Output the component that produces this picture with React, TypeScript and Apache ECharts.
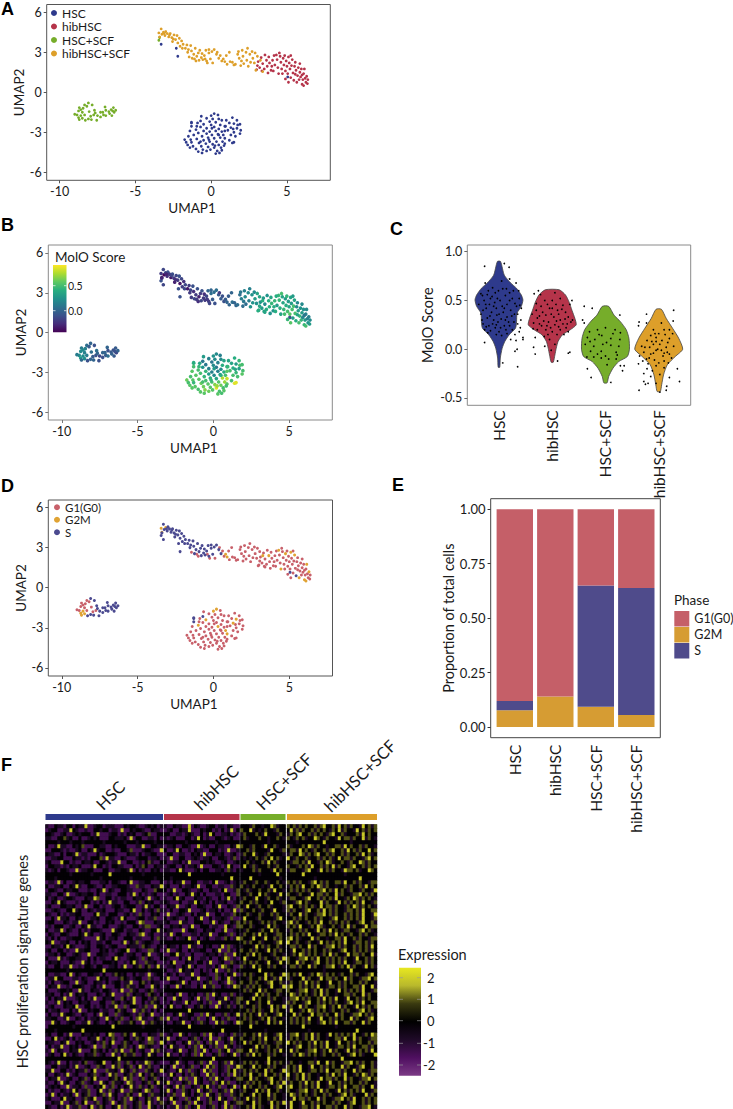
import React, { useEffect, useRef } from "react";
import * as echarts from "echarts";

const FONT = "Lato, 'Open Sans', sans-serif";
const TEXT = "#1a1a1a";

const groups = ["HSC", "hibHSC", "HSC+SCF", "hibHSC+SCF"];
const groupColors = ["#2e3a8c", "#b5344a", "#76ad2a", "#dd9f2a"];
const phases = ["G1(G0)", "G2M", "S"];
const phaseColors = ["#c8606a", "#e0a334", "#4b4a90"];
const barColors = ["#c55f68", "#d69c33", "#4f4b8b"];

// Cells: [UMAP1, UMAP2, MolO score, phase index]
const hscCells = [
  [0.2,-1.6,0.2,1],[0.45,-1.7,0.15,0],[0.0,-1.75,0.25,1],[-0.65,-1.8,0.3,0],[-0.3,-1.95,0.15,0],[0.1,-2.0,0.2,0],[0.5,-2.0,0.2,0],[-0.7,-2.15,0.1,2],[-0.1,-2.2,0.1,0],[0.3,-2.25,0.15,0],
  [0.7,-2.1,0.35,0],[-0.5,-2.4,0.1,1],[-0.9,-2.3,0.35,0],[0.0,-2.45,0.2,0],[0.6,-2.45,0.4,0],[-1.3,-2.3,0.45,2],[-1.3,-2.55,0.5,2],[-0.7,-2.6,0.25,0],[-0.3,-2.7,0.15,0],[0.2,-2.6,0.1,0],
  [0.5,-2.75,0.2,0],[0.9,-2.55,0.4,0],[-1.0,-2.8,0.5,1],[-0.5,-2.9,0.45,0],[-0.1,-2.95,0.15,0],[0.3,-2.9,0.15,1],[0.7,-2.95,0.4,0],[-1.4,-2.9,0.55,0],[-0.85,-3.05,0.5,0],[-0.3,-3.1,0.3,0],
  [0.05,-3.2,0.2,0],[0.45,-3.15,0.3,0],[0.8,-3.2,0.5,1],[-1.15,-3.2,0.55,0],[-0.6,-3.3,0.45,0],[-0.2,-3.4,0.4,0],[0.2,-3.45,0.35,0],[0.6,-3.4,0.75,0],[0.9,-3.45,0.8,1],[-1.5,-3.3,0.5,0],
  [-1.35,-3.55,0.55,0],[-0.95,-3.5,0.55,0],[-0.5,-3.6,0.5,0],[-0.1,-3.7,0.5,0],[0.35,-3.7,0.55,0],[0.75,-3.7,0.7,0],[-1.75,-3.55,0.6,0],[-1.65,-3.75,0.5,0],[-1.3,-3.75,0.45,0],[-0.8,-3.8,0.6,0],
  [-0.35,-3.85,0.55,0],[0.1,-3.9,0.65,0],[0.5,-3.95,0.6,0],[0.9,-3.85,0.55,0],[-1.2,-4.05,0.55,0],[-0.65,-4.05,0.6,0],[-0.2,-4.1,0.55,0],[0.2,-4.15,0.85,0],[0.65,-4.15,0.5,0],[-1.4,-4.15,0.55,0],
  [-1.0,-4.25,0.5,0],[-0.55,-4.3,0.65,0],[-0.05,-4.3,0.55,0],[0.4,-4.4,0.5,0],[0.7,-4.35,0.55,0],[-0.85,-4.45,0.55,0],[-0.3,-4.4,0.6,0],[0.3,-4.6,0.55,0],[0.55,-4.55,0.5,0],[-0.6,-4.55,0.55,0],
  [1.0,-2.1,0.35,0],[1.4,-1.9,0.4,0],[1.7,-2.1,0.45,0],[1.2,-2.3,0.35,0],[1.5,-2.35,0.3,1],[1.9,-2.4,0.5,0],[0.95,-2.55,0.45,0],[1.3,-2.65,0.4,1],[1.7,-2.7,0.3,0],[1.95,-2.85,0.5,0],
  [1.1,-2.85,0.5,0],[1.5,-3.0,0.45,0],[1.9,-3.1,0.55,0],[1.6,-3.3,0.5,0],[1.3,-3.2,0.5,0],[1.75,-2.45,0.5,0],[1.45,-2.75,0.35,0],[1.2,-3.6,0.5,0],[1.5,-3.75,0.85,0],[1.4,-3.8,0.85,0],
  [0.9,-2.9,0.55,0],[-1.3,-2.25,0.4,2],[-0.15,-3.55,0.45,0],[0.5,-3.2,0.4,0],[-0.95,-2.55,0.45,0],[0.05,-2.7,0.3,0],[-0.7,-3.7,0.5,0],[0.85,-4.0,0.5,0],[-1.55,-3.95,0.55,0],[0.25,-4.0,0.7,0],
  [-3.3,3.6,-0.15,2],[-2.3,3.3,-0.1,2],[-2.2,2.7,-0.1,2],[5.05,1.15,-0.1,2],
];
const hibCells = [
  [3.1,2.3,0.25,0],[3.2,1.85,0.3,0],[3.0,1.7,0.4,0],[3.3,2.6,0.3,0],[3.4,2.15,0.2,0],[3.5,1.75,0.4,0],[3.55,2.8,0.25,0],[3.65,2.4,0.4,1],[3.7,1.95,0.4,0],[3.8,2.65,0.35,0],
  [3.85,2.2,0.45,0],[3.95,1.65,0.25,0],[4.05,2.4,0.45,0],[4.1,1.6,0.4,0],[4.2,2.05,0.3,0],[4.3,2.8,0.45,1],[4.35,2.45,0.45,0],[4.4,1.85,0.4,0],[4.45,1.4,0.35,1],[4.55,2.7,0.35,0],
  [4.6,2.25,0.35,0],[4.65,1.75,0.45,0],[4.7,1.4,0.5,0],[4.75,2.55,0.3,1],[4.8,2.05,0.4,0],[4.85,2.75,0.45,0],[4.9,1.6,0.5,0],[4.95,2.35,0.3,0],[5.0,1.95,0.35,0],[5.05,1.4,0.55,0],
  [5.1,2.65,0.35,1],[5.15,2.2,0.3,0],[5.2,1.75,0.5,0],[5.25,1.1,0.3,0],[5.3,2.0,0.5,0],[5.35,2.45,0.35,1],[5.4,1.45,0.5,0],[5.45,0.9,0.4,2],[5.5,1.95,0.2,0],[5.55,2.25,0.2,0],
  [5.6,1.65,0.3,0],[5.65,0.75,0.5,1],[5.7,1.25,0.45,0],[5.75,1.85,0.25,0],[5.8,0.95,0.45,0],[5.85,1.5,0.3,0],[5.9,1.15,0.2,0],[5.95,1.75,0.25,0],[6.0,0.6,0.45,1],[6.05,0.95,0.3,0],
  [6.1,1.4,0.15,0],[6.1,0.5,0.5,1],[6.15,1.75,0.2,1],[6.2,1.05,0.15,0],[6.25,0.75,0.25,0],[6.3,1.2,0.15,1],[6.35,0.65,0.3,0],[6.38,0.95,0.2,0],[4.5,2.95,0.5,0],[5.25,2.75,0.3,0],
  [3.35,1.6,0.35,0],[4.15,2.75,0.4,0],[3.05,2.0,0.35,0],[5.55,1.35,0.35,0],[4.9,1.0,0.45,0],[4.0,1.95,0.4,0],[5.85,2.15,0.2,0],[3.75,1.45,0.25,0],[5.1,0.75,0.55,0],[6.0,1.3,0.1,0],
];
const scfCells = [
  [-8.1,-0.8,0.0,2],[-8.35,-0.95,0.05,0],[-7.85,-0.95,-0.1,2],[-8.7,-1.15,0.12,0],[-8.45,-1.2,0.15,0],[-8.75,-1.4,0.2,0],[-8.5,-1.5,0.15,0],[-8.85,-1.7,0.22,0],[-8.6,-1.75,0.22,1],[-9.0,-1.65,0.12,0],
  [-8.75,-1.9,0.28,1],[-8.5,-1.95,0.22,1],[-8.7,-2.05,0.02,1],[-8.35,-1.7,0.12,0],[-8.3,-2.1,-0.1,2],[-8.05,-1.45,0.05,0],[-7.95,-1.8,-0.05,0],[-7.9,-2.05,0.0,2],[-7.75,-1.7,-0.1,0],[-7.7,-1.35,0.05,2],
  [-7.55,-2.1,-0.1,2],[-7.5,-1.75,-0.15,2],[-7.3,-1.5,0.0,2],[-7.3,-1.85,-0.1,2],[-7.1,-1.7,-0.05,2],[-7.0,-1.1,0.0,2],[-6.95,-1.35,-0.1,2],[-6.95,-1.75,0.05,2],[-6.7,-1.6,0.0,2],[-6.6,-1.3,-0.1,2],
  [-6.55,-1.75,-0.05,2],[-6.45,-1.15,-0.05,2],[-6.4,-1.5,-0.15,2],[-6.3,-1.35,0.0,2],[-6.5,-1.4,-0.1,2],[-8.2,-1.05,-0.05,0],[-7.15,-1.5,0.0,2],[-7.65,-1.55,0.0,2],[-8.1,-2.0,0.0,2],[-8.6,-1.3,0.2,0],
  [-6.75,-1.45,-0.05,2],[-3.45,3.9,-0.1,2],[-3.4,4.1,-0.2,2],
];
const hibScfCells = [
  [-3.45,4.45,-0.2,1],[-3.4,4.15,-0.3,1],[-3.3,4.75,-0.15,2],[-3.25,4.35,-0.4,2],[-3.15,4.5,-0.15,1],[-3.05,4.25,-0.25,2],[-3.0,4.55,-0.1,2],[-2.9,4.4,-0.2,2],[-2.8,4.15,-0.35,2],[-2.7,4.4,-0.1,2],
  [-2.6,4.1,-0.2,2],[-2.55,3.8,-0.3,2],[-2.45,4.3,-0.15,2],[-2.35,3.95,-0.2,2],[-2.25,4.25,-0.1,2],[-2.2,3.7,-0.35,2],[-2.1,4.05,-0.15,2],[-2.05,3.45,-0.2,2],[-1.95,3.85,-0.25,2],[-1.85,3.6,-0.15,2],
  [-1.7,3.3,-0.35,2],[-1.6,3.55,-0.2,2],[-1.5,3.2,-0.15,2],[-1.45,2.65,-0.2,0],[-1.35,3.5,-0.1,2],[-1.3,3.1,-0.25,2],[-1.25,2.55,-0.15,2],[-1.15,2.85,-0.2,2],[-1.05,3.3,-0.1,2],[-1.0,2.35,-0.25,0],
  [-0.95,2.7,-0.3,2],[-0.85,2.95,-0.2,2],[-0.8,2.4,-0.15,2],[-0.75,3.15,-0.1,2],[-0.65,2.6,-0.2,2],[-0.6,2.9,-0.25,2],[-0.55,2.45,-0.2,2],[-0.45,2.75,-0.15,2],[-0.35,3.15,0.0,2],[-0.3,2.35,-0.2,2],
  [-0.25,2.2,-0.15,0],[-0.15,2.95,0.05,2],[-0.15,3.2,0.0,2],[-0.05,2.5,-0.05,2],[0.05,3.05,0.05,2],[0.1,2.2,-0.1,0],[0.2,3.2,0.05,2],[0.35,2.85,-0.05,2],[0.4,3.0,-0.2,0],[0.5,2.55,-0.05,2],
  [0.6,2.75,-0.1,0],[0.7,2.35,-0.1,0],[0.9,2.3,0.0,1],[1.0,2.75,-0.05,0],[1.05,2.1,0.0,0],[1.25,2.3,0.05,0],[1.2,3.0,0.0,0],[1.5,2.05,0.0,0],[1.6,2.1,0.05,0],[1.75,2.85,0.05,0],
  [1.85,2.55,0.15,0],[1.8,3.05,0.1,0],[1.95,2.0,0.05,0],[2.05,3.15,0.15,0],[2.1,2.7,0.2,0],[2.15,2.15,0.05,0],[2.3,3.0,0.2,0],[2.35,2.4,0.15,0],[2.4,3.3,0.15,0],[2.45,1.95,0.25,0],
  [2.55,2.85,0.25,0],[2.6,2.25,0.25,0],[2.7,3.05,0.2,0],[2.75,2.55,0.3,0],[2.85,2.2,0.25,0],[2.9,2.95,0.35,0],[2.95,1.65,0.4,0],[3.05,2.7,0.35,0],[3.25,2.4,0.4,1],[3.4,1.55,0.35,0],
  [-1.9,3.3,-0.15,2],[-2.5,4.0,-0.25,2],[-1.55,3.0,-0.2,2],[-0.4,2.5,-0.2,0],[0.8,2.5,-0.05,1],[2.0,2.35,0.1,0],[-3.1,4.4,-0.3,2],[-1.1,2.5,-0.2,0],[-2.75,4.3,-0.15,2],[1.4,2.25,0.0,0],
];
const allCells = [hscCells, hibCells, scfCells, hibScfCells];

// Violin outlines: [score, half width in category units]
const violinHsc = [[0.9,0.03],[0.76,0.1],[0.68,0.22],[0.625,0.33],[0.556,0.42],[0.505,0.45],[0.44,0.42],[0.37,0.34],[0.283,0.33],[0.215,0.31],[0.147,0.19],[0.08,0.11],[0.01,0.06],[-0.09,0.025],[-0.185,0.015]];
const violinHib = [[0.61,0.13],[0.556,0.25],[0.48,0.32],[0.4,0.37],[0.317,0.425],[0.25,0.45],[0.2,0.34],[0.147,0.19],[0.08,0.11],[0.01,0.075],[-0.06,0.05],[-0.133,0.02]];
const violinScf = [[0.44,0.06],[0.35,0.16],[0.283,0.28],[0.2,0.39],[0.113,0.44],[0,0.45],[-0.075,0.41],[-0.126,0.25],[-0.195,0.14],[-0.28,0.06],[-0.345,0.03]];
const violinHibScf = [[0.41,0.05],[0.317,0.14],[0.215,0.26],[0.113,0.375],[0,0.45],[-0.075,0.31],[-0.16,0.16],[-0.263,0.09],[-0.365,0.055],[-0.433,0.03]];
const violins = [violinHsc, violinHib, violinScf, violinHibScf];

// Jittered cells of panel C: [category position, score]
const jitterHsc = [
  [0.73,0.85],[1.1,0.88],[1.19,0.84],[0.74,0.68],[0.88,0.63],[1.05,0.7],[1.2,0.72],[1.32,0.68],[1.37,0.6],[0.66,0.57],[0.78,0.56],[0.93,0.58],[1.07,0.62],[1.2,0.58],[1.38,0.52],[0.72,0.5],[0.82,0.46],[0.97,0.52],[1.02,0.5],[1.15,0.46],[1.3,0.47],[1.42,0.42],[0.62,0.46],[0.7,0.4],[0.86,0.38],[0.95,0.42],[1.08,0.38],[1.22,0.4],[1.35,0.36],[0.66,0.36],[0.78,0.32],[0.9,0.3],[1.04,0.31],[1.15,0.33],[1.28,0.28],[1.41,0.3],[0.7,0.26],[0.81,0.24],[0.95,0.25],[1.1,0.24],[1.25,0.2],[1.38,0.18],[0.73,0.2],[0.84,0.19],[1.0,0.18],[1.15,0.16],[1.3,0.15],[1.45,0.1],[0.73,0.07],[1.05,0.14],[1.32,0.09],[1.34,0.0],[1.45,0.12],[1.3,-0.02],[1.07,-0.14],[1.35,-0.18],[0.87,0.54],[1.12,0.55],[0.76,0.42],[1.0,0.36],[1.18,0.28],[0.9,0.44],[1.25,0.52],[0.95,0.15],[1.4,0.22],[0.8,0.6],[1.1,0.42],[0.93,0.22],[1.22,0.1],
  [0.69,0.55],[0.84,0.52],[0.99,0.6],[1.14,0.62],[1.27,0.6],[0.75,0.46],[0.92,0.48],[1.06,0.44],[1.2,0.5],[1.33,0.44],[0.68,0.3],[0.83,0.34],[0.98,0.28],[1.12,0.3],[1.24,0.34],[0.76,0.23],[0.88,0.26],[1.03,0.22],[1.2,0.24],[1.35,0.26],[0.79,0.17],[0.96,0.35],[1.13,0.2],[1.29,0.36],[1.39,0.45],
];
const jitterHib = [
  [1.66,0.57],[1.74,0.6],[1.78,0.56],[2.05,0.58],[2.15,0.52],[2.37,0.5],[1.7,0.47],[1.86,0.5],[2.0,0.5],[2.2,0.45],[2.33,0.46],[1.7,0.4],[1.82,0.38],[1.95,0.42],[2.1,0.4],[2.25,0.38],[1.62,0.36],[1.72,0.32],[1.88,0.35],[2.03,0.33],[2.15,0.3],[2.3,0.33],[1.65,0.27],[1.8,0.24],[1.93,0.28],[2.05,0.25],[2.2,0.26],[2.35,0.28],[1.72,0.2],[1.88,0.2],[2.0,0.18],[2.15,0.2],[2.3,0.18],[1.68,0.12],[1.85,0.13],[1.95,0.1],[2.05,0.05],[1.98,-0.01],[1.65,0.02],[2.3,-0.04],[2.33,-0.03],[1.68,-0.05],[2.1,-0.12],[1.86,0.03],[2.0,0.42],[2.12,0.36],[1.9,0.24],[2.26,0.22],
  [1.79,0.44],[1.91,0.46],[2.07,0.46],[2.18,0.41],[1.76,0.34],[1.98,0.36],[2.08,0.29],[2.24,0.31],[1.84,0.29],[1.97,0.22],[2.12,0.23],[2.28,0.26],[1.76,0.26],[2.09,0.15],[1.92,0.15],[2.22,0.15],[2.38,0.3],[1.64,0.21],
];
const jitterScf = [
  [2.6,0.44],[2.75,0.42],[2.57,0.3],[2.6,0.27],[3.27,0.35],[2.7,0.18],[2.85,0.2],[3.0,0.22],[3.18,0.2],[3.28,0.17],[2.66,0.12],[2.8,0.1],[2.93,0.14],[3.1,0.11],[3.27,0.1],[2.62,0.05],[2.78,0.03],[2.95,0.05],[3.1,0.04],[3.25,0.03],[2.72,-0.02],[2.85,-0.05],[3.0,-0.07],[3.2,-0.03],[2.65,-0.08],[2.78,-0.08],[2.92,-0.09],[3.06,-0.1],[3.2,-0.1],[3.35,-0.17],[2.66,-0.2],[3.32,-0.22],[2.73,-0.29],[3.03,-0.16],[3.1,-0.34],[3.28,-0.17],
  [2.88,0.15],[3.02,0.07],[3.14,0.16],[2.71,0.08],[3.22,-0.06],[2.92,-0.02],
];
const jitterHibScf = [
  [3.77,0.36],[3.63,0.28],[3.62,0.24],[4.28,0.4],[4.27,0.29],[4.2,0.2],[3.77,0.27],[3.9,0.2],[4.05,0.27],[4.26,0.16],[3.85,0.14],[3.95,0.12],[4.12,0.15],[3.78,0.09],[3.95,0.08],[4.06,0.09],[4.2,0.11],[3.68,0.03],[3.83,0.02],[3.98,0.0],[4.14,0.02],[4.28,0.03],[3.72,-0.03],[3.85,-0.05],[3.95,-0.01],[4.05,-0.01],[4.2,-0.05],[3.64,-0.07],[3.77,-0.1],[3.92,-0.11],[4.1,-0.12],[4.24,-0.09],[3.62,-0.15],[3.78,-0.2],[3.95,-0.17],[4.1,-0.19],[4.35,-0.2],[3.72,-0.25],[3.85,-0.28],[4.02,-0.26],[4.2,-0.29],[3.72,-0.33],[3.8,-0.35],[3.63,-0.42],[3.75,-0.36],[3.95,-0.35],[4.14,-0.42],[4.02,-0.44],[4.39,-0.33],[4.15,-0.38],[3.9,0.05],[4.1,-0.04],[3.8,-0.15],[4.0,0.16],[3.88,-0.22],[4.18,-0.14],
  [3.87,0.08],[4.02,0.05],[4.17,0.07],[3.74,0.02],[3.9,-0.04],[4.08,-0.07],[3.82,-0.09],[4.0,-0.14],[4.16,-0.03],[3.7,-0.12],[3.93,0.16],[4.1,0.2],
];
const jitterPoints = [...jitterHsc, ...jitterHib, ...jitterScf, ...jitterHibScf];

const stackG1 = [0.881, 0.86, 0.35, 0.362];
const stackG2M = [0.077, 0.14, 0.093, 0.055];
const stackS = [0.042, 0, 0.557, 0.583];

// Heatmap rows, one digit per cell: index into exprLevels
const exprLevels = [-1.45, -0.75, -0.1, 0.95, 1.9];
const heatHsc = [
  "100211022021140012201110002122100121201","012200114210010022122011040021221002110","221001200121222014000122010212001230022","110022312002001212000221112040220011020",
  "222212221222122222212222221222122222122","200141100212300022110021222000114002211","002221010012002141220010022130001221004","211002022140110002012221000211020112200",
  "001122000211010222304110021000122201120","120004220100211200221011400220010231002","022110102112000142201022110002013200211","101202210040112200022001122140201002120",
  "222222221222222122222422222222221222222","222122222222222222122222222212222222122","011040200121122000112022100240011220002","200112002141002210020011222100311002114",
  "022100211220001002140210022110002100322","110022040012112202001100222014020101200","201200122100021143002201011002112040120","002142100010222010201411002200130212001",
  "120002211200140022010012201222001410220","001210022412002101120002110024002012031","210020101122000024110222001201031002120","002041120021200112002210142000122011300",
  "122000210114002201002120010222043000211","010222001200214110022000121002201330012","200114021002010222100041220110021002241","021002210002141200120022100211034012001",
  "102020011222100004120112002220110002031","214001120020212001102200014021301221002","002110242100012002210122000211103210021","120022010041122000212010122400210033120",
  "011202200121004002211001220112002140012","200041012211002020110024100122103021002","021120002100412010022212001024100311200","100220114001022102200112014002130230141",
  "222222212222222222242222222222222212222","200110024021002211020013212002011040122","011422000110210004212000132101220031002","102001220040120021102012201140023102110",
  "021140010222100120140002201311022004120","200012212004100211022100140031200123011","112002014021120002102140001302112032102","020211400012020140021120032014002201310",
  "100140212002112000220031201214002013120","012000211240022010120114003022101300412","201120002014002122011002312004013102020","020014122100210020412003012210130214001",
  "112200140021020112004120130020341100213","004120012200114021002012301132004013121","022222222122222222222242222222221222222","222122222222422222222222222222222222212",
  "120022014000211212002430013204120021103","002410120201002114020131002201312043002","211002140021200120130240013120021033104","020114002120221040031200213102043121002",
  "104021002114000231202013140032012004131","012002410210021130120041023113002141200","222222222222122222222222422222222122222","210140020110230012240021301302011430210",
  "002201120140012003120041302130240131002","114002201021130240003112041203100312014","200210140120002130120413002131042013210","021140012002130241000213204130013021302",
  "100204120021301200412031120431002130241","012120040112030021240130202141031023012","201002101420113002401302140031120431002","014020112040213002130412001320041203112",
  "120002411200131240021302013041200231041","002114002130240013021040213002130241013","210020140113002401320021403102130041201",
];
const heatHib = [
  "1002110040210012201102100","0120021140002122010201402","2200110121002014200112010","1012000220142010022101200",
  "2222222122222222212222222","0112002210040120021100214","2001420010211002220104001","0220011002120400211200120",
  "1040022001210112002210130","2001120140002212100120012","0122002011204000221014200","1100241000120220011203102",
  "2222222242222222222122222","2212222222222222222222422","0102114002200110240012012","1200020112140022001100312",
  "2014002210012002110240013","0120100214120200011022003","1002412000211021002014102","2100020011420120201120012",
  "0211400120022100214002103","1020022140001201120200140","0400121002021140022011032","2012100200214002011210300",
  "1200041100222001402100213","0021120014002220110042103","2110004022100211200140012","0140220001102114002210302",
  "1002011240020120011032014","2222222222142222222222222","0211020041100212001403012","1400120020112200214003102",
  "0022411002000121120130042","2100020142001102002143010","1024000211022014001200312","0112002140200011020431200",
  "2001042112002010240013102","0210200114002210031202140","1400021002140012030214012","0022114020010213002104302",
  "1200402110020411300210143","2222222222222222122222222","0112040021200130412001302","2004120012041030021140213",
  "1020110420012013004112013","0241002100213120040213102","2222222242222222222222122","1002140122003041200130214",
  "0410021120130020412013002","2002114002103120041301204","2222222242222222122222222","2212222222222222222422222",
  "0120041201120304120012031","1400210021302014003120412","2012002140130203140021302","0241100201304120130041201",
  "1002140021301402003124013","2410020120304100213012140","2222212222222222422222222","0021401200213014002130412",
  "1204010213002041302103014","2100241030120413002103241","0142002013120041302013041","1020140300412013041200213",
  "2401002130412001302413002","0120413002103241013002140","1402003120140213002130412","2013004120213041203100312",
  "0142100302140013204120031","1204002130412013002140213","2011401302140021302041301",
];
const heatScf = [
  "222132212243122","322412123221322","132223214222132","231222322122321",
  "222222222122222","322132214223122","223132222142213","132241221322221",
  "212123213242312","223212231423122","242131222321322","122231322214232",
  "222222122222422","222422222222212","132213223122321","321232212142232",
  "213122322314221","221322423122142","132214221322312","322313221242213",
  "214221322312221","312232132214221","223122312231322","142221322221342",
  "231322132313221","322312221423122","213222132241322","132231423221332",
  "322142214223132","231322312221342","122214231322312","322313221423132",
  "223142322213221","241222313221314","132313221422142","312142322313221",
  "222222422222222","132312224132214","221322314213142","322313221342231",
  "213132322142214","231322413221332","122214231322312","322142322313221",
  "214221322412221","312231322142314","223132312241322","132321413221342",
  "231322132413221","322313221423142","222422222222222","222222221222222",
  "132231413221342","322132314223142","241322313221332","122214231322312",
  "322413221323142","213142322313221","222222222422222","132313221423132",
  "322142322313221","132313224132214","231422314223132","322413221342231",
  "213132322142314","241322313221342","132214231422312","322142322413221",
  "214231322313221","312241322142314","223142312241322",
];
const heatHibScf = [
  "323132322313422314231322142313","241313223132321324132214231323","132342231323213422312223142322","321323122432132214233132241321",
  "222122222222422222222122222222","312223243132212233142322313221","233142321322313422314231322423","132243132342231322313223142312",
  "421322312231323124233132213423","213323142213243122321322431322","322132314223132413221342231323","133221342214231322143323122432",
  "222224222222222222212222222222","222222222122222222222222422222","323132213423132233142231322133","132314223243132212231322314232",
  "231323132213423142321322132214","322132214233132241322133423132","133221342231323142213243132321","221342312224132214231323142213",
  "342231323124233132213243132321","313221342231423132213323142233","132241322133423132231323142214","223132322313221342231323142213",
  "341322132314223132313221342231","323142213243122321324132214233","132231322142314232133221342312","231323142213323142321322313221",
  "342312224132212233142231322133","421322132214231323142213323132","233132241322133423132231323142","214223132322313221342231323132",
  "213243132321324132214233132241","322133423142231323132214223132","322413221342231323142213323132","233132241322133421324132214231",
  "222222222222122222222422222222","323142213243132321322313221342","312224132214233132241322133423","132231423132214223132322313221",
  "342231323142213323132233142241","322133421324132214231323142213","243132321324132212233132241322","133423132231423142214223132322",
  "313221342231323132213423142233","132241322133421324132214231323","142213243132321322313221342312","224132214233132241322133423132",
  "231323142214223132322413221342","231323132213423142233132241322","222224222222222212222222222222","222222212222222222222224222222",
  "133421324132214231323142213243","132321324132212233142241322133","423132231423142214223132322313","221342231323142213323142233132",
  "241322133421324132214231323142","213243132321322313221342312224","222222222122222222422222222222","132212233142241322133423132231",
  "323142214223132322413221342231","323142213323142233132241322133","421324132212231423142213243132","321324132214233132241322133423",
  "132231423142214223132322313221","342231323142213323142233132241","322133421324132214231323142213","243132321322313221342312224132",
  "214233132241322133423142231323","142214223132322313221342231323","142213323142233132241322133421",
];
const heatGroups = [heatHsc, heatHib, heatScf, heatHibScf];

const umapXTicks = [-10, -5, 0, 5];
const umapYTicks = [-6, -3, 0, 3, 6];
const moloTicks = [-0.5, 0, 0.5, 1];
const propTicks = [0, 0.25, 0.5, 0.75, 1];
const viridis = ["#440154", "#472d7b", "#3b528b", "#2c728e", "#21918c", "#28ae80", "#5ec962", "#addc30", "#fde725"];
const heatColors = ["#7b3a85", "#4f0f60", "#1f0a28", "#000000", "#3a3a10", "#b8b82c", "#e8e820"];

const labelStyle = { color: TEXT, fontFamily: FONT, fontSize: 12.5, margin: 5, hideOverlap: false };

function umapAxes(gridIndex: number, xr: number[], yr: number[], nameColor: string) {
  const line = { show: false, onZero: false };
  return {
    x: {
      type: "value", gridIndex, min: xr[0], max: xr[1], splitLine: { show: false }, axisLine: line,
      axisTick: { show: true, length: 3, customValues: umapXTicks, lineStyle: { color: nameColor } },
      axisLabel: { ...labelStyle, customValues: umapXTicks },
      name: "UMAP1", nameLocation: "middle", nameGap: 21,
      nameTextStyle: { color: TEXT, fontFamily: FONT, fontSize: 13.5, padding: [0, 0, 0, 7] },
    },
    y: {
      type: "value", gridIndex, min: yr[0], max: yr[1], splitLine: { show: false }, axisLine: line,
      axisTick: { show: true, length: 3, customValues: umapYTicks, lineStyle: { color: nameColor } },
      axisLabel: { ...labelStyle, customValues: umapYTicks },
      name: "UMAP2", nameLocation: "middle", nameGap: 20,
      nameTextStyle: { color: TEXT, fontFamily: FONT, fontSize: 13.5 },
    },
  };
}

function txt(text: string, x: number, y: number, fontSize: number, extra: any = {}, styleExtra: any = {}) {
  return {
    type: "text", x, y, silent: true, ...extra,
    style: { text, fontSize, fontFamily: FONT, fill: TEXT, verticalAlign: "middle", ...styleExtra },
  };
}
function letter(text: string, x: number, y: number) {
  return txt(text, x, y, 18, {}, { fontFamily: "'Liberation Sans', Arial, sans-serif", fontWeight: "bold", fill: "#000" });
}

function buildOption() {
  const aAxes = umapAxes(0, [-10.85, 7.86], [-6.6, 6.58], "#555");
  const bAxes = umapAxes(1, [-10.89, 7.85], [-6.56, 6.59], "#777");
  const dAxes = umapAxes(2, [-10.89, 7.85], [-6.6, 6.56], "#555");

  const heatGrids = [
    { left: 45.5, width: 117.5 },
    { left: 164, width: 75.5 },
    { left: 240.5, width: 45 },
    { left: 287, width: 90 },
  ];

  const xAxes: any[] = [
    aAxes.x, bAxes.x, dAxes.x,
    {
      type: "category", gridIndex: 3, data: groups, boundaryGap: true,
      axisLine: { show: false, onZero: false }, axisTick: { alignWithLabel: true, length: 3, lineStyle: { color: "#666" } },
      axisLabel: { ...labelStyle, rotate: 90, interval: 0, fontSize: 15.5 },
    },
    { type: "value", gridIndex: 3, min: 0.5, max: 4.5, show: false },
    {
      type: "category", gridIndex: 4, data: groups, boundaryGap: true,
      axisLine: { show: false, onZero: false }, axisTick: { alignWithLabel: true, length: 3, lineStyle: { color: "#333" } },
      axisLabel: { ...labelStyle, rotate: 90, interval: 0, fontSize: 15.5, margin: 7 },
    },
  ];
  const yAxes: any[] = [
    aAxes.y, bAxes.y, dAxes.y,
    {
      type: "value", gridIndex: 3, min: -0.575, max: 1.069, offset: 5, splitLine: { show: false }, axisLine: { show: false, onZero: false },
      axisTick: { show: true, length: 3, customValues: moloTicks, lineStyle: { color: "#666" } },
      axisLabel: { ...labelStyle, customValues: moloTicks, formatter: (v: number) => v.toFixed(1) },
      name: "MolO Score", nameLocation: "middle", nameGap: 32,
      nameTextStyle: { color: TEXT, fontFamily: FONT, fontSize: 14.5 },
    },
    {
      type: "value", gridIndex: 4, min: -0.049, max: 1.0487, offset: 4, splitLine: { show: false }, axisLine: { show: false, onZero: false },
      axisTick: { show: true, length: 3, customValues: propTicks, lineStyle: { color: "#333" } },
      axisLabel: { ...labelStyle, fontSize: 13, customValues: propTicks, formatter: (v: number) => v.toFixed(2) },
      name: "Proportion of total cells", nameLocation: "middle", nameGap: 34,
      nameTextStyle: { color: TEXT, fontFamily: FONT, fontSize: 14.5 },
    },
  ];

  const series: any[] = [];

  // Panel A
  groups.forEach((g, i) => {
    series.push({
      type: "scatter", name: g, xAxisIndex: 0, yAxisIndex: 0, symbolSize: 2.8,
      itemStyle: { color: groupColors[i], opacity: 1 }, data: allCells[i].map((c) => [c[0], c[1]]),
    });
  });

  // Panel B
  const scoreSeriesIndex = series.length;
  series.push({
    type: "scatter", name: "MolO", xAxisIndex: 1, yAxisIndex: 1, symbolSize: 3.6,
    itemStyle: { opacity: 1 },
    data: allCells.flat().map((c) => [c[0], c[1], c[2]]),
  });

  // Panel D
  phases.forEach((p, i) => {
    series.push({
      type: "scatter", name: p, xAxisIndex: 2, yAxisIndex: 2, symbolSize: i === 0 ? 2.9 : 3,
      itemStyle: { color: phaseColors[i], opacity: 1 },
      data: allCells.flat().filter((c) => c[3] === i).map((c) => [c[0], c[1]]),
    });
  });

  // Panel C
  series.push({
    type: "custom", name: "violin", xAxisIndex: 4, yAxisIndex: 3, z: 2,
    data: groups.map((_, i) => [i + 1, 0]),
    renderItem: (params: any, api: any) => {
      const idx = params.dataIndex;
      const profile = violins[idx];
      const c = idx + 1;
      const right = profile.map((p) => api.coord([c + p[1], p[0]]));
      const left = profile.slice().reverse().map((p) => api.coord([c - p[1], p[0]]));
      return {
        type: "polygon",
        shape: { points: right.concat(left), smooth: 0.22 },
        style: { fill: groupColors[idx], stroke: "#444", lineWidth: 0.8 },
      };
    },
  });
  series.push({
    type: "scatter", name: "cells", xAxisIndex: 4, yAxisIndex: 3, symbolSize: 1.7, z: 3,
    itemStyle: { color: "#000", opacity: 1 }, data: jitterPoints,
  });

  // Panel E
  const stackDefs = [
    { name: "G2M", values: stackG2M, color: barColors[1] },
    { name: "S", values: stackS, color: barColors[2] },
    { name: "G1(G0)", values: stackG1, color: barColors[0] },
  ];
  stackDefs.forEach((s) => {
    series.push({
      type: "bar", name: s.name, xAxisIndex: 5, yAxisIndex: 4, stack: "phase", barWidth: 36.4,
      itemStyle: { color: s.color }, data: s.values,
    });
  });

  // Panel F
  const heatStart = series.length;
  heatGroups.forEach((rows, gi) => {
    const nCols = Math.max(...rows.map((r) => r.length));
    xAxes.push({ type: "category", gridIndex: 5 + gi, show: false, boundaryGap: true, data: Array.from({ length: nCols }, (_, k) => k) });
    yAxes.push({ type: "category", gridIndex: 5 + gi, show: false, inverse: true, boundaryGap: true, data: rows.map((_, k) => k) });
    const data: number[][] = [];
    rows.forEach((row, r) => {
      for (let c = 0; c < row.length; c++) data.push([c, r, exprLevels[Number(row[c])]]);
    });
    series.push({
      type: "heatmap", name: groups[gi], xAxisIndex: 6 + gi, yAxisIndex: 5 + gi, data,
      itemStyle: { borderWidth: 0 }, emphasis: { disabled: true },
    });
  });
  const heatSeries = heatGroups.map((_, i) => heatStart + i);

  const grids: any[] = [
    { left: 46.7, top: 4.5, width: 283.6, height: 175.8, show: true, borderColor: "#555", borderWidth: 1, backgroundColor: "transparent" },
    { left: 48.3, top: 245, width: 284, height: 175, show: true, borderColor: "#8a8a8a", borderWidth: 1, backgroundColor: "transparent" },
    { left: 48.3, top: 500, width: 284.2, height: 176, show: true, borderColor: "#555", borderWidth: 1, backgroundColor: "transparent" },
    { left: 472.35, top: 245, width: 213, height: 160.3 },
    { left: 494.55, top: 498.7, width: 162, height: 239 },
    ...heatGrids.map((g) => ({ left: g.left, width: g.width, top: 824.5, height: 284.5, show: true, borderWidth: 0, backgroundColor: "#120a16" })),
  ];

  const barStops = viridis.map((c, i) => ({ offset: 1 - i / (viridis.length - 1), color: c }));
  const heatStops = heatColors.map((c, i) => ({ offset: 1 - i / (heatColors.length - 1), color: c }));
  const grad = (stops: any[]) => ({ type: "linear", x: 0, y: 0, x2: 0, y2: 1, colorStops: stops.slice().reverse() });

  const annot = heatGrids.map((g, i) => ({
    type: "rect", silent: true, shape: { x: g.left, y: 814, width: g.width, height: 6 }, style: { fill: groupColors[i] },
  }));

  const tickPairs = (x0: number, x1: number, len: number, ys: number[], color: string) =>
    ys.flatMap((y) => [
      { type: "line", silent: true, z: 10, shape: { x1: x0, y1: y, x2: x0 + len, y2: y }, style: { stroke: color, lineWidth: 0.7 } },
      { type: "line", silent: true, z: 10, shape: { x1: x1 - len, y1: y, x2: x1, y2: y }, style: { stroke: color, lineWidth: 0.7 } },
    ]);

  const heatLabels = [
    { t: groups[0], x: 105, y: 813 },
    { t: groups[1], x: 203, y: 813 },
    { t: groups[2], x: 265, y: 813 },
    { t: groups[3], x: 333, y: 815 },
  ].map((l) => ({
    type: "text", x: l.x, y: l.y, rotation: Math.PI / 4, silent: true,
    style: { text: l.t, fontSize: 16.5, fontFamily: FONT, fill: TEXT, align: "left", verticalAlign: "bottom" },
  }));

  const graphicElements: any[] = [
    letter("A", 1, 9), letter("B", 1, 225), letter("C", 390, 229), letter("D", 1, 486), letter("E", 392, 485), letter("F", 1, 765),
    { type: "rect", silent: true, shape: { x: 467.3, y: 245, width: 223.4, height: 160.3 }, style: { fill: "none", stroke: "#8a8a8a", lineWidth: 1 } },
    { type: "rect", silent: true, shape: { x: 490.7, y: 498.7, width: 169.6, height: 239 }, style: { fill: "none", stroke: "#444", lineWidth: 1 } },
    // Panel B colour bar
    txt("MolO Score", 55, 257, 13.5),
    { type: "rect", silent: true, shape: { x: 53, y: 265, width: 13.5, height: 67.3 }, style: { fill: grad(barStops) } },
    ...tickPairs(53, 66.5, 2.5, [285.7, 310.7], "#fff"),
    txt("0.5", 68, 285.7, 10.5),
    txt("0.0", 68, 310.7, 10.5),
    // Panel E legend title
    txt("Phase", 674, 600, 13.5),
    // Panel F
    ...annot,
    ...heatLabels,
    txt("HSC proliferation signature genes", 22, 961.5, 14.5, { rotation: Math.PI / 2 }, { align: "center" }),
    txt("Expression", 398, 954, 14.5),
    { type: "rect", silent: true, shape: { x: 399, y: 967.7, width: 22, height: 108 }, style: { fill: grad(heatStops) } },
    ...tickPairs(399, 421, 4, [977.7, 999.3, 1020.7, 1043.3, 1065], "#9a9a9a"),
    txt("2", 427, 977.7, 13),
    txt("1", 427, 999.3, 13),
    txt("0", 427, 1020.7, 13),
    txt("-1", 423, 1043.3, 13),
    txt("-2", 423, 1065, 13),
  ];

  const legendText = { color: TEXT, fontFamily: FONT, fontSize: 12, lineHeight: 13 };

  return {
    animation: false,
    backgroundColor: "#fff",
    grid: grids,
    xAxis: xAxes,
    yAxis: yAxes,
    series,
    legend: [
      {
        left: 51, top: 6.5, orient: "vertical", padding: 0, itemWidth: 6, itemHeight: 6, itemGap: 0.5, icon: "circle",
        data: groups, textStyle: legendText, selectedMode: false,
      },
      {
        left: 54, top: 501, orient: "vertical", padding: 0, itemWidth: 6, itemHeight: 6, itemGap: 0, icon: "circle",
        data: phases, textStyle: { ...legendText, fontSize: 11.5, lineHeight: 12.5 }, selectedMode: false,
      },
      {
        left: 674.3, top: 611, orient: "vertical", padding: 0, itemWidth: 15, itemHeight: 15.5, itemGap: 0.5, icon: "rect",
        data: phases.map((name, i) => ({ name, itemStyle: { color: barColors[i] } })),
        textStyle: { color: TEXT, fontFamily: FONT, fontSize: 12.5 }, selectedMode: false,
      },
    ],
    visualMap: [
      { show: false, type: "continuous", min: -0.43, max: 0.91, dimension: 2, seriesIndex: scoreSeriesIndex, inRange: { color: viridis } },
      { show: false, type: "continuous", min: -2.5, max: 2.46, dimension: 2, seriesIndex: heatSeries, inRange: { color: heatColors } },
    ],
    graphic: { elements: graphicElements },
  };
}

export default function App() {
  const ref = useRef<HTMLDivElement>(null);
  useEffect(() => {
    document.body.style.margin = "0";
    const chart = echarts.init(ref.current!, undefined, { renderer: "svg" });
    chart.setOption(buildOption() as any);
    return () => chart.dispose();
  }, []);
  return <div ref={ref} style={{ width: 733, height: 1109 }} />;
}
